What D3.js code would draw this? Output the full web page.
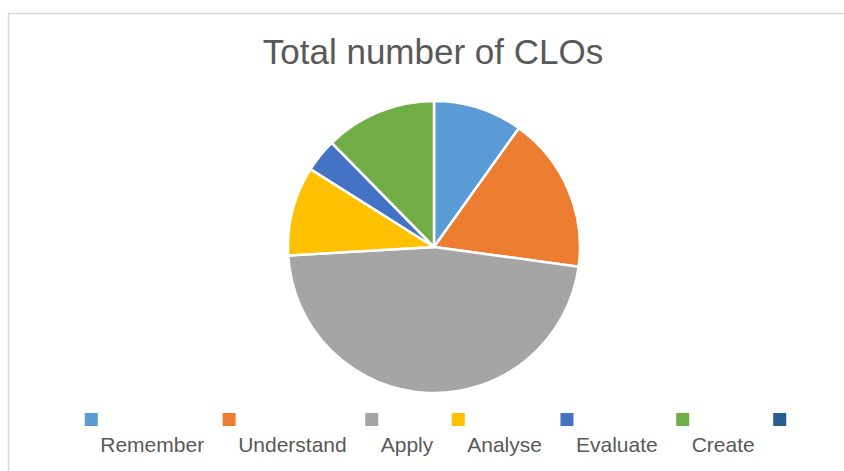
<!DOCTYPE html>
<html>
<head>
<meta charset="utf-8">
<script src="https://cdn.jsdelivr.net/npm/d3@7"></script>
<style>
    body { margin: 0; background: #fff; }
    svg text { font-family: "Liberation Sans", Arial, sans-serif; }
</style>
</head>
<body>
<div id="chart"></div>
<script>
const categories = ["Remember", "Understand", "Apply", "Analyse", "Evaluate", "Create", ""];
const values = [8, 14, 38, 8, 3, 10, 0];
const colors = ["#5b9bd5", "#ed7d31", "#a5a5a5", "#ffc000", "#4472c4", "#70ad47", "#255e91"];
const title = "Total number of CLOs";

const width = 844;
const height = 471;
const center = { x: 434, y: 247 };
const radius = 146;

const svg = d3.select("#chart")
    .append("svg")
    .attr("width", width)
    .attr("height", height);

// chart area border (runs off the right/bottom edge)
svg.append("rect")
    .attr("x", 8.5)
    .attr("y", 13.5)
    .attr("width", 900)
    .attr("height", 500)
    .attr("fill", "#fff")
    .attr("stroke", "#d9d9d9")
    .attr("stroke-width", 1.5);

svg.append("text")
    .attr("x", 433)
    .attr("y", 64)
    .attr("text-anchor", "middle")
    .attr("font-size", 35)
    .attr("fill", "#595959")
    .text(title);

const data = categories.map((c, i) => ({ name: c, value: values[i], color: colors[i] }));

const pie = d3.pie()
    .sort(null)
    .value(d => d.value);

const arc = d3.arc()
    .innerRadius(0)
    .outerRadius(radius);

svg.append("g")
    .attr("transform", `translate(${center.x},${center.y})`)
    .selectAll("path")
    .data(pie(data).filter(d => d.data.value > 0))
    .join("path")
    .attr("d", arc)
    .attr("fill", d => d.data.color)
    .attr("stroke", "#fff")
    .attr("stroke-width", 2.5)
    .attr("stroke-linejoin", "round");

// legend: marker on top, label underneath, entries laid out by text width
const legend = svg.append("g");
const markerSize = 13;
const labelOffset = 15.5;
const entryGap = 18.5;

const entries = legend.selectAll("g")
    .data(data)
    .join("g");

entries.append("rect")
    .attr("width", markerSize)
    .attr("height", markerSize)
    .attr("fill", d => d.color);

entries.append("text")
    .attr("x", labelOffset)
    .attr("y", 39)
    .attr("font-size", 21)
    .attr("fill", "#595959")
    .text(d => d.name);

let xPos = 0;
entries.each(function (d) {
    const w = this.querySelector("text").getComputedTextLength();
    d3.select(this).attr("transform", `translate(${xPos},0)`);
    xPos += d.name ? labelOffset + w + entryGap : markerSize;
});

legend.attr("transform", `translate(${435.5 - xPos / 2},413)`);
</script>
</body>
</html>
